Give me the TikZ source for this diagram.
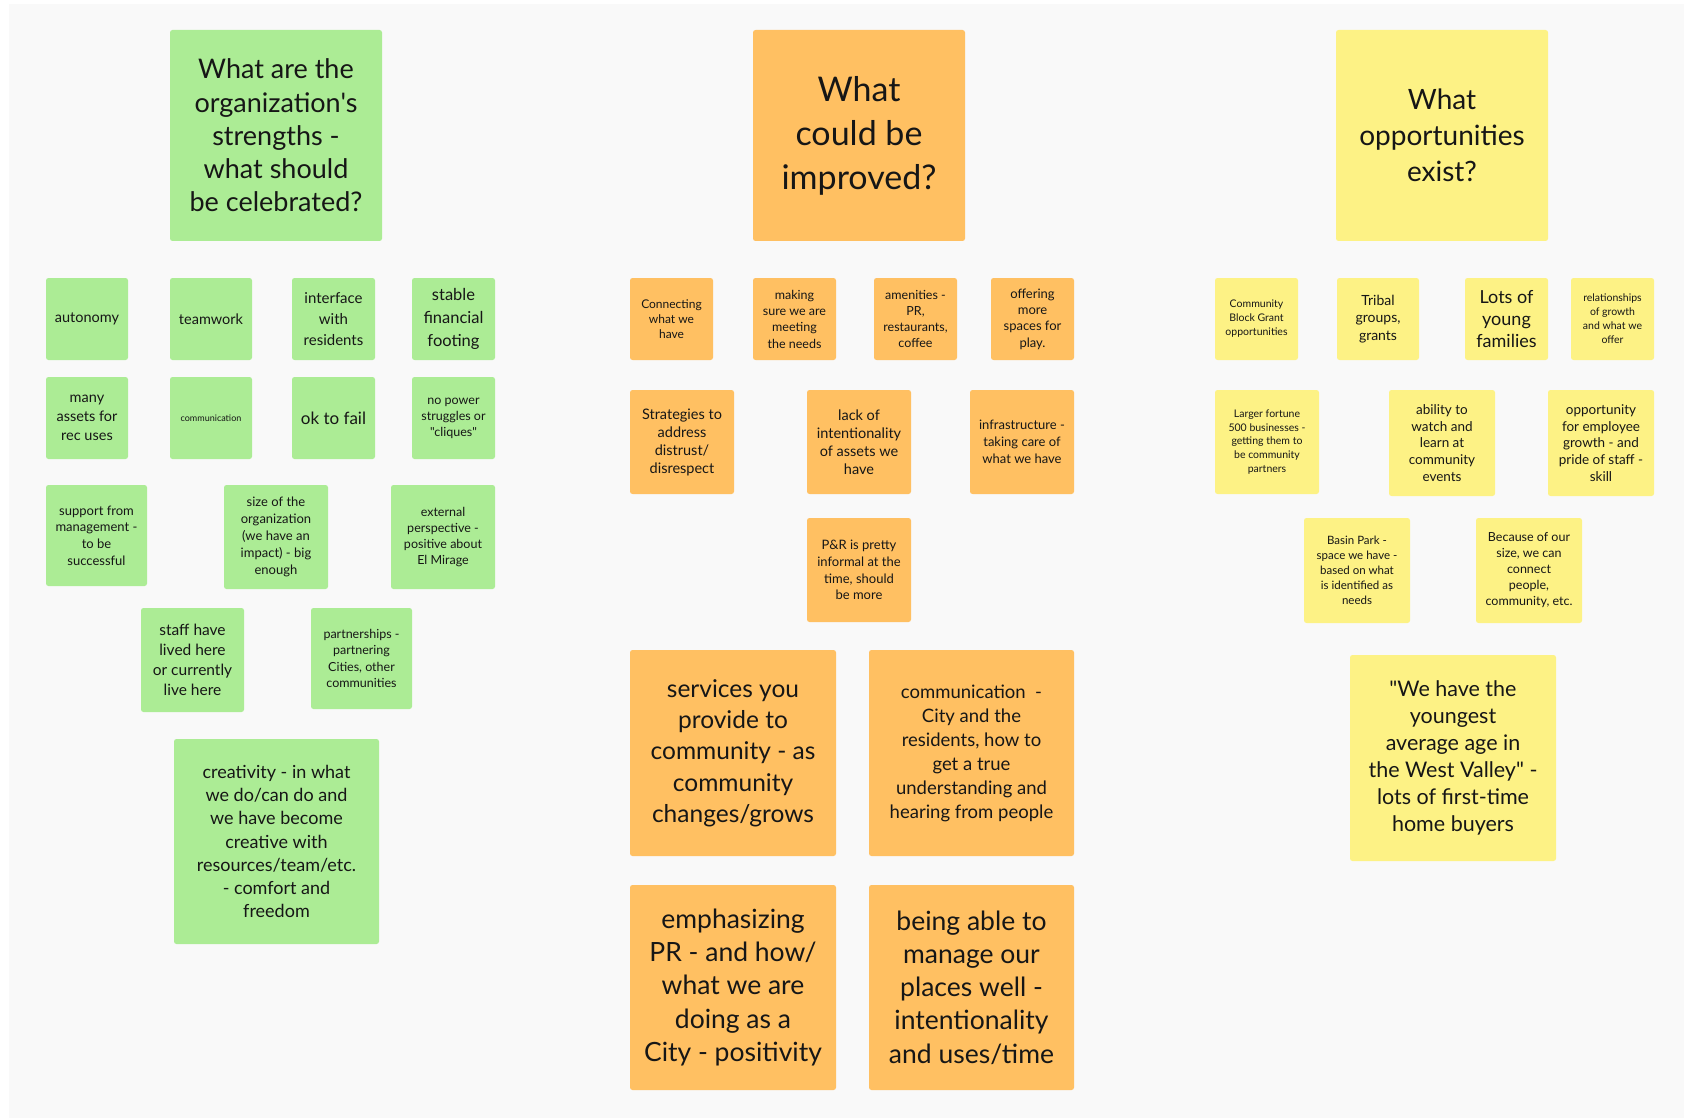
\documentclass[tikz,border=0pt]{standalone}
\usepackage{fontspec}
\setmainfont{Lato}[Ligatures=TeXOff]
\definecolor{bgc}{RGB}{249,249,249}
\definecolor{gfill}{RGB}{172,236,149}
\definecolor{ofill}{RGB}{255,192,98}
\definecolor{yfill}{RGB}{253,242,133}
\definecolor{ink}{RGB}{22,22,22}
\tikzset{
  stick/.style={rectangle, rounded corners=2.5pt, inner sep=0pt, align=center, text=ink},
  gnote/.style={stick, fill=gfill},
  onote/.style={stick, fill=ofill},
  ynote/.style={stick, fill=yfill},
}
% name, style, x1, y1, x2, y2, size, skip, text
\newcommand\stk[9]{%
  \node[#2, minimum width={(#5-#3)*1pt}, minimum height={(#6-#4)*1pt},
        font=\fontsize{#7}{#8}\selectfont] (#1) at ({(#3+#5)/2},{(#4+#6)/2}) {#9};}
\begin{document}
\begin{tikzpicture}[x=1pt,y=-1pt]
\useasboundingbox (0,0) rectangle (1684,1118);
\fill[white] (0,0) rectangle (1684,1118);
\fill[bgc] (9,4) rectangle (1684,1118);
% ---- green column
\stk{gtitle}{gnote}{170}{30}{382}{241}{27}{33.3}{What are the\\organization's\\strengths -\\what should\\be celebrated?}
\stk{autonomy}{gnote}{46}{278}{128}{360}{14.5}{18}{autonomy}
\stk{teamwork}{gnote}{170}{278}{252}{360}{14.5}{18}{teamwork}
\stk{interface}{gnote}{292}{278}{375}{360}{15}{21}{interface\\with\\residents}
\stk{stable}{gnote}{412}{278}{495}{360}{16.5}{23}{stable\\financial\\footing}
\stk{many}{gnote}{46}{377}{128}{459}{14.5}{19}{many\\assets for\\rec uses}
\stk{commsmall}{gnote}{170}{377}{252}{459}{9}{11}{communication}
\stk{okfail}{gnote}{292}{377}{375}{459}{17}{20}{ok to fail}
\stk{nopower}{gnote}{412}{377}{495}{459}{12.5}{16}{no power\\struggles or\\"cliques"}
\stk{support}{gnote}{46}{485}{147}{586}{13}{16.6}{support from\\management -\\to be\\successful}
\stk{size}{gnote}{224}{485}{328}{589}{13}{17}{size of the\\organization\\(we have an\\impact) - big\\enough}
\stk{external}{gnote}{391}{485}{495}{589}{12.5}{16}{external\\perspective -\\positive about\\El Mirage}
\stk{staff}{gnote}{141}{608}{244}{712}{15.5}{20}{staff have\\lived here\\or currently\\live here}
\stk{partner}{gnote}{311}{608}{412}{709}{12.5}{16.5}{partnerships -\\partnering\\Cities, other\\communities}
\stk{creativity}{gnote}{174}{739}{379}{944}{18}{23.3}{creativity - in what\\we do/can do and\\we have become\\creative with\\resources/team/etc.\\- comfort and\\freedom}
% ---- orange column
\stk{otitle}{onote}{753}{30}{965}{241}{34}{44}{What\\could be\\improved?}
\stk{connecting}{onote}{630}{278}{713}{360}{12}{15.3}{Connecting\\what we\\have}
\stk{making}{onote}{753}{278}{836}{360}{12.5}{16.3}{making\\sure we are\\meeting\\the needs}
\stk{amenities}{onote}{874}{278}{957}{360}{12.5}{16.3}{amenities -\\PR,\\restaurants,\\coffee}
\stk{offering}{onote}{991}{278}{1074}{360}{13}{16.3}{offering\\more\\spaces for\\play.}
\stk{strategies}{onote}{630}{390}{734}{494}{14.5}{18}{Strategies to\\address\\distrust/\\disrespect}
\stk{lack}{onote}{807}{390}{911}{494}{14.5}{18}{lack of\\intentionality\\of assets we\\have}
\stk{infra}{onote}{970}{390}{1074}{494}{13}{16.7}{infrastructure -\\taking care of\\what we have}
\stk{pr}{onote}{807}{518}{911}{622}{13}{16.7}{P\&R is pretty\\informal at the\\time, should\\be more}
\stk{services}{onote}{630}{650}{836}{856}{24.5}{31.3}{services you\\provide to\\community - as\\community\\changes/grows}
\stk{commbig}{onote}{869}{650}{1074}{856}{18.5}{24}{communication~~-\\City and the\\residents, how to\\get a true\\understanding and\\hearing from people}
\stk{emphasizing}{onote}{630}{885}{836}{1090}{26.5}{33.3}{emphasizing\\PR - and how/\\what we are\\doing as a\\City - positivity}
\stk{being}{onote}{869}{885}{1074}{1090}{26.5}{33.3}{being able to\\manage our\\places well -\\intentionality\\and uses/time}
% ---- yellow column
\stk{ytitle}{ynote}{1336}{30}{1548}{241}{28}{36}{What\\opportunities\\exist?}
\stk{cbg}{ynote}{1215}{278}{1298}{360}{10.5}{14}{Community\\Block Grant\\opportunities}
\stk{tribal}{ynote}{1337}{278}{1419}{360}{14}{17.3}{Tribal\\groups,\\grants}
\stk{lots}{ynote}{1465}{278}{1548}{360}{18}{21.7}{Lots of\\young\\families}
\stk{relations}{ynote}{1571}{278}{1654}{360}{10.5}{14}{relationships\\of growth\\and what we\\offer}
\stk{larger}{ynote}{1215}{390}{1319}{494}{10.5}{13.7}{Larger fortune\\500 businesses -\\getting them to\\be community\\partners}
\stk{ability}{ynote}{1389}{390}{1495}{496}{13.5}{16.7}{ability to\\watch and\\learn at\\community\\events}
\stk{opportunity}{ynote}{1548}{390}{1654}{496}{13.5}{16.7}{opportunity\\for employee\\growth - and\\pride of staff -\\skill}
\stk{basin}{ynote}{1304}{518}{1410}{623}{11.5}{15}{Basin Park -\\space we have -\\based on what\\is identified as\\needs}
\stk{because}{ynote}{1476}{518}{1582}{623}{12.5}{16}{Because of our\\size, we can\\connect\\people,\\community, etc.}
\stk{wehave}{ynote}{1350}{655}{1556}{861}{21.5}{27}{"We have the\\youngest\\average age in\\the West Valley" -\\lots of first-time\\home buyers}
\end{tikzpicture}
\end{document}
